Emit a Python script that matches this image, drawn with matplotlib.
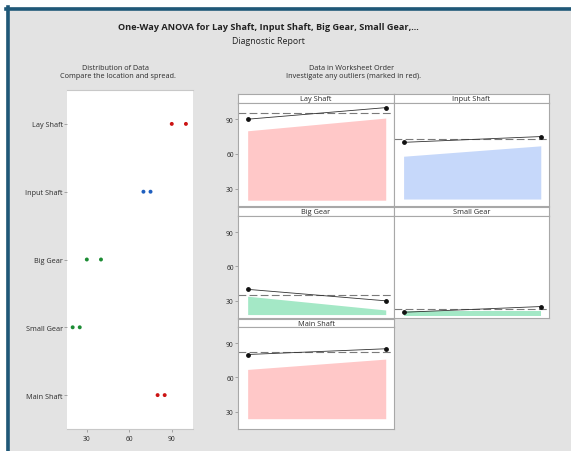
import matplotlib
matplotlib.use("Agg")
import matplotlib.pyplot as plt
from matplotlib.patches import Rectangle
from matplotlib.lines import Line2D

# Five measured parts, two observations each (worksheet order)
groups = ["Lay Shaft", "Input Shaft", "Big Gear", "Small Gear", "Main Shaft"]
first_obs = [90, 70, 40, 20, 80]
second_obs = [100, 75, 30, 25, 85]

# Shaded band behind each worksheet-order panel (start/end top, bottom)
band_start = [80, 58, 34, 21, 67]
band_end = [91, 67, 22, 21, 76]
band_floor = [20, 21, 18, 17, 24]

dot_colors = ["#cc1414", "#1f5fbf", "#1c8c34", "#1c8c34", "#cc1414"]
band_colors = ["#ffc8c8", "#c6d8fa", "#a4e8c6", "#a4e8c6", "#ffc8c8"]

value_ticks = [30, 60, 90]
value_lim = (15, 104)
dist_lim = (16, 105)

W, H = 571, 452
fig = plt.figure(figsize=(W / 100, H / 100), dpi=100)
fig.patch.set_facecolor("white")
plt.rcParams["font.family"] = ["Open Sans", "DejaVu Sans"]

BG = "#e3e3e3"
TXT = "#2a2a2a"
EDGE = "#a8a8a8"


def px_axes(x, y, w, h, **kw):
    return fig.add_axes([x / W, 1 - (y + h) / H, w / W, h / H], **kw)


def fx(x):
    return x / W


def fy(y):
    return 1 - y / H


# report background and frame
fig.patches.append(Rectangle((fx(6), 0), 1 - fx(6), fy(8), transform=fig.transFigure,
                             facecolor=BG, edgecolor="none", zorder=-10))
fig.lines.append(Line2D([fx(7.5), fx(7.5)], [0, fy(8)], transform=fig.transFigure,
                        color="#1f5878", lw=2.6, zorder=-5))
fig.lines.append(Line2D([fx(6), 1], [fy(9.5), fy(9.5)], transform=fig.transFigure,
                        color="#1f5878", lw=2.6, zorder=-5))

# titles
fig.text(fx(268), fy(28), "One-Way ANOVA for Lay Shaft, Input Shaft, Big Gear, Small Gear,...",
         ha="center", va="center", fontsize=6.6, fontweight="bold", color="#222222")
fig.text(fx(268), fy(41), "Diagnostic Report", ha="center", va="center",
         fontsize=6.3, color="#222222")
fig.text(fx(116), fy(68), "Distribution of Data", ha="center", va="center",
         fontsize=5.2, color=TXT)
fig.text(fx(118), fy(77), "Compare the location and spread.", ha="center", va="center",
         fontsize=5.2, color=TXT)
fig.text(fx(352), fy(68), "Data in Worksheet Order", ha="center", va="center",
         fontsize=5.2, color=TXT)
fig.text(fx(353), fy(77), "Investigate any outliers (marked in red).", ha="center",
         va="center", fontsize=5.2, color=TXT)

# distribution of data (dot plot)
ax = px_axes(67, 91, 126, 339)
ax.set_facecolor("white")
for i, g in enumerate(groups):
    ax.scatter([first_obs[i], second_obs[i]], [i, i], s=8, color=dot_colors[i],
               edgecolors="none", zorder=3)
ax.set_ylim(len(groups) - 0.5, -0.5)
ax.set_xlim(*dist_lim)
ax.set_yticks(range(len(groups)))
ax.set_yticklabels(groups)
ax.set_xticks(value_ticks)
for side in ["right", "left"]:
    ax.spines[side].set_visible(False)
ax.spines["top"].set_color("#c8c8c8")
ax.spines["bottom"].set_color("#c8c8c8")
ax.spines["top"].set_linewidth(0.8)
ax.spines["bottom"].set_linewidth(0.8)
ax.tick_params(axis="y", length=2, width=0.5, color="#888888", labelsize=5.2,
               labelcolor=TXT, pad=1)
ax.tick_params(axis="x", length=2, width=0.5, color="#888888", labelsize=4.8,
               labelcolor=TXT, pad=2)

# worksheet-order panels
cols = [(238, 156), (394, 155)]
rows = [(95, 104, 103), (208, 217, 102), (320, 328, 102)]
layout = [(0, 0), (0, 1), (1, 0), (1, 1), (2, 0)]
obs_x = [1, 2]

for i, g in enumerate(groups):
    r, c = layout[i]
    x0, w = cols[c]
    s_top, p_top, p_h = rows[r]

    strip = px_axes(x0, s_top, w, p_top - s_top)
    strip.set_facecolor("white")
    strip.set_xticks([])
    strip.set_yticks([])
    for sp in strip.spines.values():
        sp.set_color(EDGE)
        sp.set_linewidth(0.8)
    strip.text(0.5, 0.45, g, ha="center", va="center", fontsize=5.3, color=TXT,
               transform=strip.transAxes)

    pa = px_axes(x0, p_top, w, p_h)
    pa.set_facecolor("white")
    ys = [first_obs[i], second_obs[i]]
    pa.fill_between(obs_x, [band_floor[i]] * 2, [band_start[i], band_end[i]],
                    color=band_colors[i], lw=0, zorder=1)
    mean = sum(ys) / len(ys)
    pa.axhline(mean, color="#7a7a7a", lw=0.8, ls=(0, (7, 3)), zorder=2)
    pa.plot(obs_x, ys, color="#333333", lw=0.6, zorder=3)
    pa.scatter(obs_x, ys, s=6, color="#111111", zorder=4)
    pa.set_xlim(0.93, 2.06)
    pa.set_ylim(*value_lim)
    pa.set_xticks([])
    for sp in pa.spines.values():
        sp.set_color(EDGE)
        sp.set_linewidth(0.8)
    if c == 0:
        pa.set_yticks(value_ticks)
        pa.tick_params(axis="y", length=2, width=0.5, color="#888888", labelsize=4.8,
                       labelcolor=TXT, pad=1)
    else:
        pa.set_yticks([])

fig.savefig("out.png", dpi=100)
